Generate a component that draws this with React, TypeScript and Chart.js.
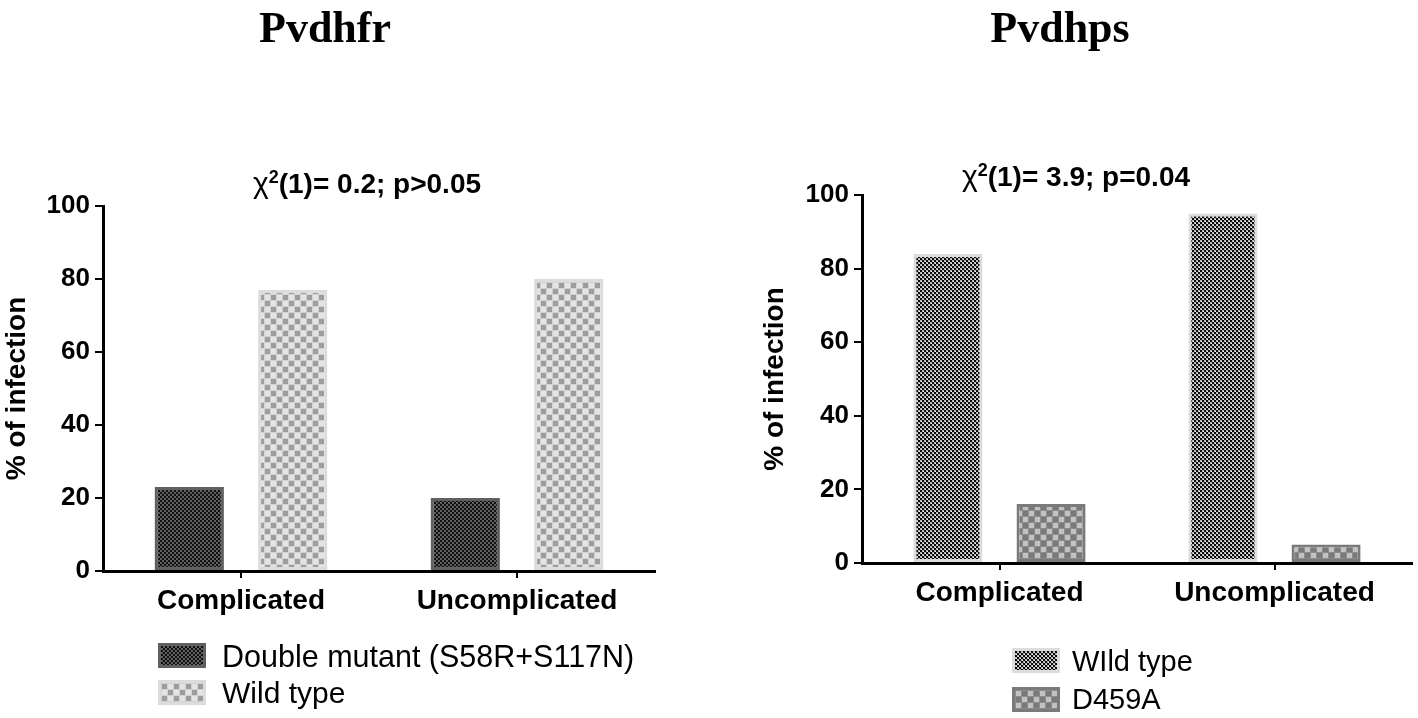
import React, { useEffect, useRef } from "react";
import { Chart, registerables } from "chart.js";

Chart.register(...registerables);

const categories = ["Complicated", "Uncomplicated"];
const dhfrDoubleMutant = [23, 20];
const dhfrWildType = [77, 80];
const dhpsWildType = [84, 95];
const dhpsD459A = [16, 5];
const yTickValues = [0, 20, 40, 60, 80, 100];

const FONT = "'Liberation Sans', Arial, sans-serif";

function makeTile(kind: string): HTMLCanvasElement {
  const c = document.createElement("canvas");
  const g = c.getContext("2d") as CanvasRenderingContext2D;
  if (kind === "darkDots") {
    c.width = 4; c.height = 4;
    g.fillStyle = "#5a5a5a"; g.fillRect(0, 0, 4, 4);
    g.fillStyle = "#111"; g.fillRect(0, 0, 2, 2); g.fillRect(2, 2, 2, 2);
    g.fillStyle = "#707070"; g.fillRect(2, 0, 1, 1); g.fillRect(0, 2, 1, 1);
  } else if (kind === "lightChecker") {
    c.width = 12; c.height = 12;
    g.fillStyle = "#d2d2d2"; g.fillRect(0, 0, 12, 12);
    g.fillStyle = "#9d9d9d"; g.fillRect(1, 1, 5, 5); g.fillRect(7, 7, 5, 5);
    g.fillStyle = "#e4e4e4"; g.fillRect(7, 1, 5, 5); g.fillRect(1, 7, 5, 5);
  } else if (kind === "fineDots") {
    c.width = 4; c.height = 4;
    g.fillStyle = "#b5b5b5"; g.fillRect(0, 0, 4, 4);
    g.fillStyle = "#0a0a0a"; g.fillRect(0, 0, 2, 2); g.fillRect(2, 2, 2, 2);
    g.fillStyle = "#f2f2f2"; g.fillRect(3, 1, 1, 1); g.fillRect(1, 3, 1, 1);
  } else {
    c.width = 12; c.height = 12;
    g.fillStyle = "#8c8c8c"; g.fillRect(0, 0, 12, 12);
    g.fillStyle = "#c2c2c2"; g.fillRect(1, 1, 5, 5); g.fillRect(7, 7, 5, 5);
    g.fillStyle = "#7a7a7a"; g.fillRect(7, 1, 5, 5); g.fillRect(1, 7, 5, 5);
  }
  return c;
}

const STYLES: Record<string, { tile: string; border: string }> = {
  doubleMutant: { tile: "darkDots", border: "#606060" },
  wildL: { tile: "lightChecker", border: "#dcdcdc" },
  wildR: { tile: "fineDots", border: "#dcdcdc" },
  d459a: { tile: "grayChecker", border: "#7a7a7a" },
};

function makeConfig(ctx: CanvasRenderingContext2D, series: { label: string; data: number[]; style: string }[], pad: any, yWidth: number) {
  return {
    type: "bar" as const,
    data: {
      labels: categories,
      datasets: series.map((s) => ({
        label: s.label,
        data: s.data,
        backgroundColor: ctx.createPattern(makeTile(STYLES[s.style].tile), "repeat"),
        borderColor: STYLES[s.style].border,
        borderWidth: 3,
        borderSkipped: false,
        categoryPercentage: 0.75,
        barPercentage: 0.67,
      })),
    },
    options: {
      responsive: false,
      animation: false as const,
      layout: { padding: pad },
      plugins: { legend: { display: false }, title: { display: false }, tooltip: { enabled: false } },
      scales: {
        x: {
          afterFit: (s: any) => { s.height = 60; },
          grid: { offset: false, drawOnChartArea: false, drawTicks: true, tickLength: 7, color: "#000", lineWidth: 2 },
          border: { color: "#000", width: 3 },
          ticks: { color: "#000", padding: 6, font: { family: FONT, size: 28, weight: "bold" } },
        },
        y: {
          min: 0,
          max: 100,
          afterFit: (s: any) => { s.width = yWidth; },
          afterBuildTicks: (s: any) => { s.ticks = yTickValues.map((v) => ({ value: v })); },
          grid: { drawOnChartArea: false, drawTicks: true, tickLength: 8, color: "#000", lineWidth: 2 },
          border: { color: "#000", width: 3 },
          ticks: { color: "#000", padding: 5, font: { family: FONT, size: 26, weight: "bold" } },
          title: { display: true, text: "% of infection", color: "#000", padding: 0, font: { family: FONT, size: 28, weight: "bold" } },
        },
      },
    },
  };
}

function BarPanel(props: { left: number; width: number; series: any[]; pad: any; yWidth: number }) {
  const ref = useRef<HTMLCanvasElement | null>(null);
  useEffect(() => {
    const canvas = ref.current as HTMLCanvasElement;
    const ctx = canvas.getContext("2d") as CanvasRenderingContext2D;
    const chart = new Chart(ctx, makeConfig(ctx, props.series, props.pad, props.yWidth) as any);
    return () => chart.destroy();
  }, []);
  return (
    <canvas
      ref={ref}
      width={props.width}
      height={718}
      style={{ position: "absolute", left: props.left, top: 0, width: props.width, height: 718 }}
    />
  );
}

function Swatch(props: { style: string; left: number; top: number }) {
  const st = STYLES[props.style];
  const url = makeTile(st.tile).toDataURL();
  return (
    <div
      style={{
        position: "absolute",
        left: props.left,
        top: props.top,
        width: 48,
        height: 25,
        boxSizing: "border-box",
        border: `3px solid ${st.border}`,
        backgroundImage: `url(${url})`,
        backgroundRepeat: "repeat",
        imageRendering: "pixelated" as any,
      }}
    />
  );
}

const textBase: React.CSSProperties = { position: "absolute", whiteSpace: "nowrap", color: "#000", lineHeight: 1 };

export default function App() {
  return (
    <div style={{ position: "fixed", left: 0, top: 0, width: 1418, height: 718, background: "#fff", overflow: "hidden" }}>
      <BarPanel
        left={0}
        width={700}
        yWidth={103}
        pad={{ left: 0, top: 206, right: 45, bottom: 87 }}
        series={[
          { label: "Double mutant (S58R+S117N)", data: dhfrDoubleMutant, style: "doubleMutant" },
          { label: "Wild type", data: dhfrWildType, style: "wildL" },
        ]}
      />
      <BarPanel
        left={758}
        width={660}
        yWidth={104}
        pad={{ left: 0, top: 195, right: 6, bottom: 95 }}
        series={[
          { label: "WIld type", data: dhpsWildType, style: "wildR" },
          { label: "D459A", data: dhpsD459A, style: "d459a" },
        ]}
      />
      <div style={{ ...textBase, left: 325, top: 28, transform: "translate(-50%,-50%)", fontFamily: "'Liberation Serif', 'Times New Roman', serif", fontWeight: "bold", fontSize: 44 }}>Pvdhfr</div>
      <div style={{ ...textBase, left: 1060, top: 28, transform: "translate(-50%,-50%)", fontFamily: "'Liberation Serif', 'Times New Roman', serif", fontWeight: "bold", fontSize: 44 }}>Pvdhps</div>
      <div style={{ ...textBase, left: 367, top: 183, transform: "translate(-50%,-50%)", fontFamily: FONT, fontWeight: "bold", fontSize: 28 }}>
        <span style={{ fontWeight: "normal", fontSize: 30 }}>χ</span><sup style={{ fontSize: 18 }}>2</sup>(1)= 0.2; p&gt;0.05
      </div>
      <div style={{ ...textBase, left: 1076, top: 176, transform: "translate(-50%,-50%)", fontFamily: FONT, fontWeight: "bold", fontSize: 28 }}>
        <span style={{ fontWeight: "normal", fontSize: 30 }}>χ</span><sup style={{ fontSize: 18 }}>2</sup>(1)= 3.9; p=0.04
      </div>
      <Swatch style="doubleMutant" left={158} top={643} />
      <div style={{ ...textBase, left: 222, top: 656, transform: "translateY(-50%)", fontFamily: FONT, fontSize: 30.5 }}>Double mutant (S58R+S117N)</div>
      <Swatch style="wildL" left={158} top={680} />
      <div style={{ ...textBase, left: 222, top: 693, transform: "translateY(-50%)", fontFamily: FONT, fontSize: 30 }}>Wild type</div>
      <Swatch style="wildR" left={1012} top={648} />
      <div style={{ ...textBase, left: 1072, top: 661, transform: "translateY(-50%)", fontFamily: FONT, fontSize: 29 }}>WIld type</div>
      <Swatch style="d459a" left={1012} top={687} />
      <div style={{ ...textBase, left: 1072, top: 699, transform: "translateY(-50%)", fontFamily: FONT, fontSize: 29 }}>D459A</div>
    </div>
  );
}
